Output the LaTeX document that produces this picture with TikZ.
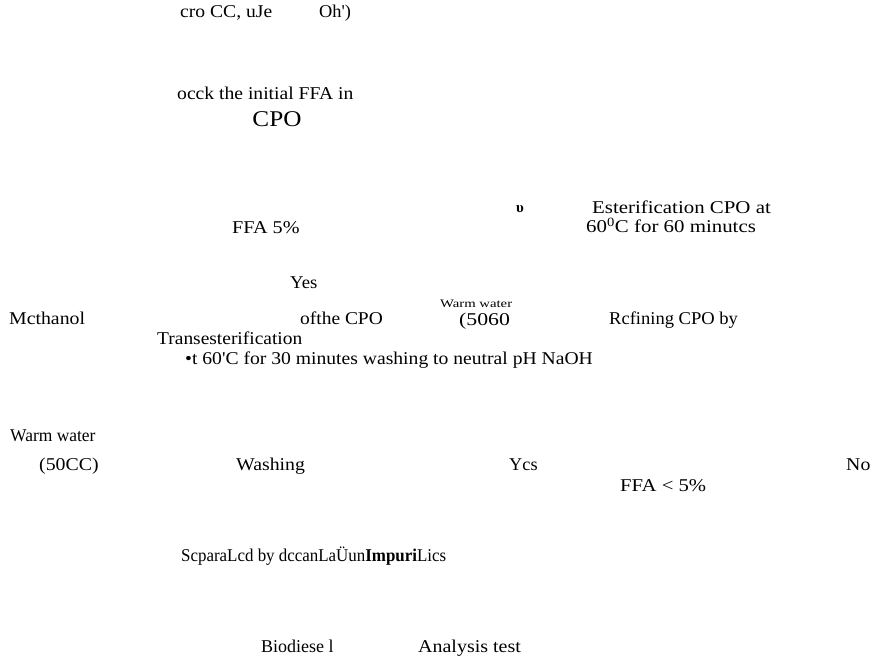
\documentclass[tikz,border=0pt]{standalone}
\usepackage{graphicx}
\usepackage{fontspec}
\setmainfont{Liberation Serif}
\newcommand{\sx}[2]{\scalebox{#1}[1]{#2}}
\begin{document}
\begin{tikzpicture}[x=1pt,y=-1pt,
  t/.style={anchor=west,inner sep=0pt,text height=12.5pt,text depth=3.5pt,font=\fontsize{18}{21}\selectfont},
  small/.style={anchor=west,inner sep=0pt,text height=8pt,text depth=2.5pt,font=\fontsize{11.5}{14}\selectfont},
  big/.style={anchor=center,inner sep=0pt,font=\fontsize{22.5}{26}\selectfont}]
\useasboundingbox (0,0) rectangle (872,662);
\node[t] (a1) at (180,13) {\sx{1.09}{cro CC, uJe}};
\node[t] (a2) at (319,13) {\sx{1.02}{Oh\textquotesingle)}};
\node[t] (b1) at (177,95) {\sx{1.09}{occk the initial FFA in}};
\node[big] (b2) at (277,119) {\sx{1.12}{CPO}};
\node[t,font=\fontsize{15}{17}\selectfont] (c0) at (516,208) {\textbf{υ}};
\node[t] (c1) at (592,209) {\sx{1.16}{Esterification CPO at}};
\node[t] (c2) at (586,228) {\sx{1.16}{60\textsuperscript{0}C for 60 minutcs}};
\node[t] (d1) at (232,229) {\sx{1.12}{FFA 5\%}};
\node[t] (e1) at (290,284) {\sx{1.04}{Yes}};
\node[small] (f0) at (440,305) {\sx{1.28}{Warm water}};
\node[t] (f1) at (9,320) {\sx{1.10}{Mcthanol}};
\node[t] (f2) at (300,320) {\sx{1.08}{ofthe CPO}};
\node[t] (f3) at (459,321) {\sx{1.21}{(5060}};
\node[t] (f4) at (609,320) {\sx{1.03}{Rcfining CPO by}};
\node[t] (g1) at (157,340) {\sx{1.08}{Transesterification}};
\node[t] (g2) at (185,360) {\sx{1.09}{•t 60\textquotesingle C for 30 minutes washing to neutral pH NaOH}};
\node[t] (h0) at (10,437) {\sx{0.97}{Warm water}};
\node[t] (h1) at (39,466) {\sx{1.10}{(50CC)}};
\node[t] (h2) at (236,466) {\sx{1.10}{Washing}};
\node[t] (h3) at (509,466) {\sx{1.02}{Ycs}};
\node[t] (h4) at (846,466) {\sx{1.10}{No}};
\node[t] (i1) at (620,487) {\sx{1.15}{FFA < 5\%}};
\node[t] (j1) at (181,557) {\sx{0.94}{ScparaLcd by dccanLaÜun\textbf{Impuri}Lics}};
\node[t] (k1) at (261,648) {\sx{1.0}{Biodiese l}};
\node[t] (k2) at (418,648) {\sx{1.11}{Analysis test}};
\end{tikzpicture}
\end{document}
